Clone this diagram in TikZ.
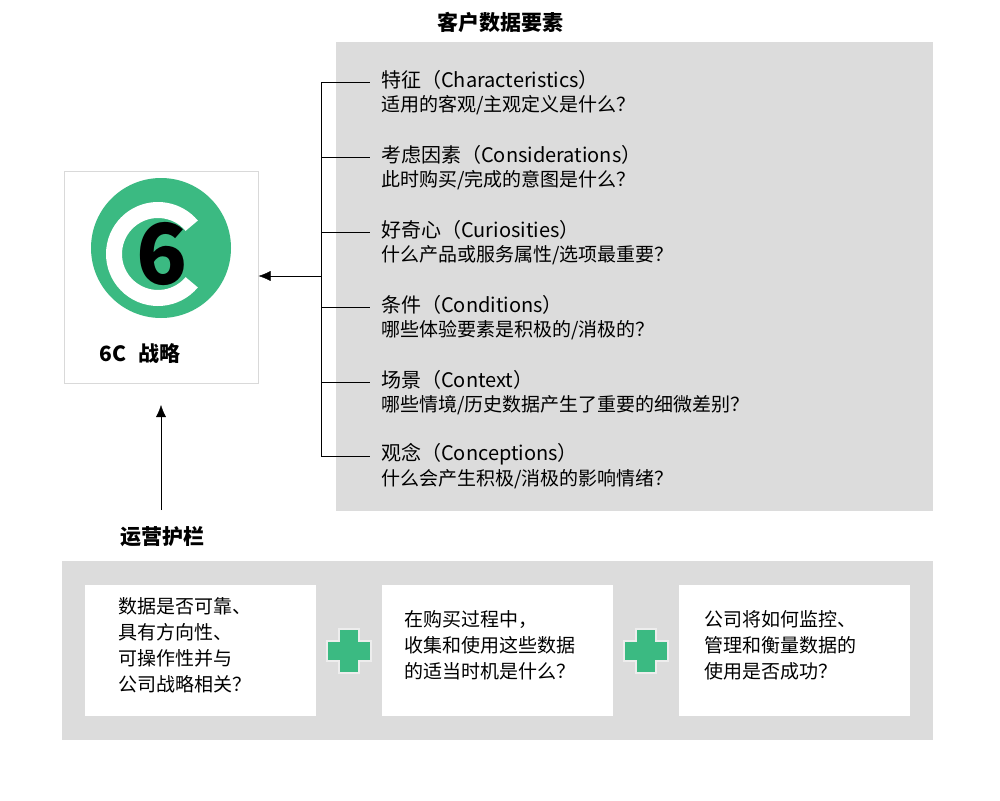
\documentclass[tikz,border=0pt]{standalone}
\usepackage{fontspec}
\setmainfont{Noto Sans CJK SC}
\usetikzlibrary{calc,arrows.meta}
\definecolor{panelgrey}{HTML}{DCDCDC}
\definecolor{crossgreen}{HTML}{3BBA82}
\tikzset{
  itemtitle/.style={anchor=west, font=\fontsize{20}{22}\selectfont, inner sep=0pt},
  itemtext/.style={anchor=west, font=\fontsize{19}{22}\selectfont, inner sep=0pt},
  boxtext/.style={anchor=north west, align=left, font=\fontsize{19}{26}\selectfont, inner sep=0pt},
  heading/.style={font=\bfseries\fontsize{21}{22}\selectfont, inner sep=0pt},
  whitebox/.style={fill=white, draw=none},
  plussign/.style={fill=crossgreen, draw=white!93!black, line width=2.5pt}
}
\newcommand{\crossat}[2]{%
  \draw[plussign] (#1-10,#2-22) -- (#1+10,#2-22) -- (#1+10,#2-10) -- (#1+22,#2-10) -- (#1+22,#2+10) -- (#1+10,#2+10) -- (#1+10,#2+22) -- (#1-10,#2+22) -- (#1-10,#2+10) -- (#1-22,#2+10) -- (#1-22,#2-10) -- (#1-10,#2-10) -- cycle;}
\begin{document}
\begin{tikzpicture}[x=1pt, y=-1pt, >={Latex[length=12pt,width=10pt]}]
\useasboundingbox (0,0) rectangle (1000,800);
\fill[white] (0,0) rectangle (1000,800);
% customer data panel
\node[heading] (title) at (500,22) {客户数据要素};
\fill[panelgrey] (336,42) rectangle (933,511);
\coordinate (bartop) at (321,82);
\coordinate (barbot) at (321,456);
\draw (bartop) -- (barbot);
\foreach \y/\name/\q [count=\i] in {
  82/特征（Characteristics）/{适用的客观/主观定义是什么？},
  157/考虑因素（Considerations）/{此时购买/完成的意图是什么？},
  232/好奇心（Curiosities）/{什么产品或服务属性/选项最重要？},
  307/条件（Conditions）/{哪些体验要素是积极的/消极的？},
  382/场景（Context）/{哪些情境/历史数据产生了重要的细微差别？},
  456/观念（Conceptions）/{什么会产生积极/消极的影响情绪？}} {
  \coordinate (tick\i) at (321,\y);
  \draw (tick\i) -- ++(49,0);
  \node[itemtitle] (item\i) at (381,\y-2) {\name};
  \node[itemtext] (ask\i) at (381,\y+23) {\q};
}
% logo
\node[draw=black!15, fill=white, minimum width=194, minimum height=212, line width=1pt] (logo) at (161,277) {};
\fill[crossgreen] (161,248) circle (70);
\fill[white] ($(158,254)+(40:52)$) arc (40:320:52) -- ($(158,254)+(320:36)$) arc (320:40:36) -- cycle;
\node[font=\bfseries\fontsize{84}{84}\selectfont, inner sep=0pt] (six) at (162,254) {6};
\node[font=\bfseries\fontsize{21}{22}\selectfont, inner sep=0pt] (logotext) at (140,354) {6C\hspace{0.6em}战略};
\coordinate (armjoin) at (321,276);
\draw[->] (armjoin) -- (logo.east |- armjoin);
% guardrails
\node[heading] (rails) at (162,537) {运营护栏};
\coordinate (railtop) at (161,510);
\draw[->] (railtop) -- (161,405);
\fill[panelgrey] (62,561) rectangle (933,740);
\fill[whitebox] (85,585) rectangle (316,716);
\fill[whitebox] (382,585) rectangle (613,716);
\fill[whitebox] (679,585) rectangle (910,716);
\node[boxtext] (railone) at (118,597) {数据是否可靠、\\具有方向性、\\可操作性并与\\公司战略相关？};
\node[boxtext] (railtwo) at (404,610) {在购买过程中，\\收集和使用这些数据\\的适当时机是什么？};
\node[boxtext] (railthree) at (704,610) {公司将如何监控、\\管理和衡量数据的\\使用是否成功？};
\crossat{349}{651}
\crossat{646}{651}
\end{tikzpicture}
\end{document}
